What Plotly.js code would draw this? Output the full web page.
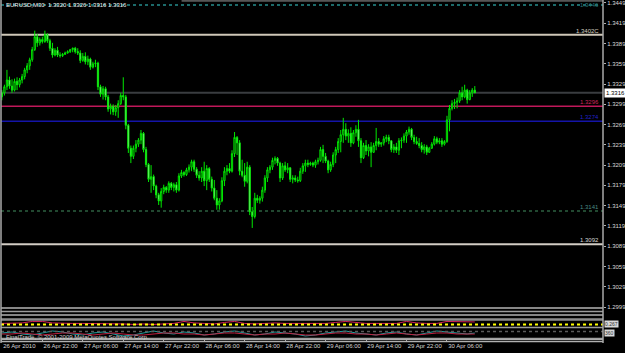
<!DOCTYPE html>
<html>
<head>
<meta charset="utf-8">
<script src="https://cdn.plot.ly/plotly-3.0.1.min.js"></script>
<style>html,body{margin:0;padding:0;background:#000;}#chart{width:625px;height:353px;}</style>
</head>
<body>
<div id="chart"></div>
<script>
// ---- data (EURUSD M30, 26 Apr 2010 14:00 onwards, one bar per 30 min) ----
const symbolTitle = 'EURUSD,M30  1.3320 1.3326 1.3316 1.3316';
const firstBar = [2010, 4, 26, 14, 0];
const opens = [1.3310,1.3316,1.3325,1.3335,1.3326,1.3320,1.3333,1.3328,1.3335,1.3340,1.3350,1.3356,1.3365,1.3380,1.3399,1.3390,1.3395,1.3392,1.3402,1.3393,
1.3382,1.3372,1.3379,1.3372,1.3371,1.3373,1.3375,1.3377,1.3380,1.3382,1.3377,1.3375,1.3364,1.3370,1.3362,1.3366,1.3354,1.3359,1.3360,1.3325,
1.3314,1.3322,1.3310,1.3292,1.3296,1.3288,1.3294,1.3300,1.3312,1.3310,1.3268,1.3234,1.3222,1.3234,1.3240,1.3246,1.3256,1.3232,1.3210,1.3188,
1.3192,1.3178,1.3165,1.3156,1.3170,1.3176,1.3172,1.3182,1.3176,1.3180,1.3172,1.3193,1.3198,1.3195,1.3202,1.3206,1.3214,1.3203,1.3194,1.3190,
1.3200,1.3186,1.3204,1.3188,1.3175,1.3160,1.3150,1.3156,1.3186,1.3200,1.3204,1.3200,1.3226,1.3250,1.3242,1.3200,1.3194,1.3185,1.3206,1.3140,
1.3133,1.3160,1.3157,1.3160,1.3172,1.3190,1.3202,1.3206,1.3216,1.3219,1.3212,1.3190,1.3208,1.3202,1.3205,1.3188,1.3190,1.3187,1.3186,1.3200,
1.3208,1.3212,1.3210,1.3212,1.3209,1.3214,1.3216,1.3232,1.3222,1.3215,1.3202,1.3210,1.3224,1.3232,1.3244,1.3254,1.3262,1.3252,1.3256,1.3242,
1.3257,1.3262,1.3245,1.3220,1.3238,1.3230,1.3236,1.3228,1.3238,1.3244,1.3240,1.3242,1.3248,1.3250,1.3245,1.3232,1.3236,1.3231,1.3245,1.3246,
1.3252,1.3258,1.3262,1.3250,1.3244,1.3241,1.3238,1.3232,1.3236,1.3228,1.3234,1.3240,1.3248,1.3243,1.3245,1.3240,1.3244,1.3276,1.3293,1.3300,
1.3302,1.3304,1.3316,1.3310,1.3320,1.3306,1.3316,1.3320];
const highs = [1.3320,1.3328,1.3350,1.3340,1.3336,1.3337,1.3339,1.3338,1.3344,1.3353,1.3360,1.3368,1.3384,1.3408,1.3403,1.3398,1.3399,1.3408,1.3404,1.3396,
1.3390,1.3382,1.3384,1.3376,1.3375,1.3377,1.3379,1.3381,1.3383,1.3384,1.3382,1.3379,1.3375,1.3376,1.3371,1.3368,1.3362,1.3365,1.3362,1.3328,
1.3326,1.3325,1.3313,1.3300,1.3299,1.3298,1.3305,1.3316,1.3339,1.3313,1.3270,1.3238,1.3238,1.3246,1.3249,1.3261,1.3258,1.3236,1.3212,1.3209,
1.3195,1.3180,1.3168,1.3175,1.3180,1.3178,1.3185,1.3184,1.3183,1.3184,1.3197,1.3202,1.3200,1.3205,1.3210,1.3217,1.3217,1.3206,1.3200,1.3206,
1.3214,1.3209,1.3206,1.3192,1.3187,1.3172,1.3160,1.3191,1.3206,1.3209,1.3212,1.3231,1.3258,1.3252,1.3246,1.3217,1.3212,1.3214,1.3209,1.3147,
1.3168,1.3165,1.3163,1.3177,1.3194,1.3206,1.3209,1.3220,1.3222,1.3221,1.3214,1.3212,1.3214,1.3212,1.3206,1.3194,1.3194,1.3192,1.3205,1.3212,
1.3217,1.3217,1.3214,1.3214,1.3217,1.3220,1.3236,1.3239,1.3227,1.3217,1.3214,1.3228,1.3236,1.3249,1.3261,1.3279,1.3271,1.3262,1.3265,1.3261,
1.3268,1.3276,1.3249,1.3242,1.3246,1.3240,1.3243,1.3242,1.3264,1.3249,1.3243,1.3252,1.3254,1.3254,1.3246,1.3240,1.3242,1.3249,1.3250,1.3256,
1.3261,1.3266,1.3264,1.3254,1.3251,1.3249,1.3243,1.3240,1.3239,1.3236,1.3243,1.3252,1.3251,1.3249,1.3249,1.3246,1.3282,1.3298,1.3305,1.3307,
1.3309,1.3320,1.3325,1.3328,1.3322,1.3320,1.3323,1.3326];
const lows = [1.3305,1.3312,1.3320,1.3322,1.3316,1.3318,1.3320,1.3324,1.3330,1.3336,1.3345,1.3350,1.3362,1.3378,1.3384,1.3386,1.3389,1.3390,1.3390,1.3378,
1.3368,1.3370,1.3369,1.3368,1.3369,1.3372,1.3374,1.3375,1.3376,1.3374,1.3372,1.3360,1.3362,1.3358,1.3357,1.3350,1.3352,1.3354,1.3320,1.3310,
1.3306,1.3305,1.3288,1.3284,1.3283,1.3282,1.3279,1.3298,1.3305,1.3262,1.3227,1.3212,1.3218,1.3228,1.3236,1.3240,1.3228,1.3206,1.3184,1.3168,
1.3172,1.3160,1.3150,1.3146,1.3166,1.3168,1.3168,1.3172,1.3170,1.3168,1.3170,1.3190,1.3192,1.3193,1.3198,1.3200,1.3199,1.3190,1.3186,1.3184,
1.3178,1.3172,1.3184,1.3170,1.3157,1.3143,1.3143,1.3154,1.3178,1.3194,1.3197,1.3198,1.3221,1.3224,1.3194,1.3191,1.3177,1.3182,1.3135,1.3116,
1.3130,1.3153,1.3152,1.3155,1.3168,1.3184,1.3197,1.3202,1.3210,1.3208,1.3184,1.3187,1.3199,1.3197,1.3184,1.3182,1.3184,1.3183,1.3184,1.3196,
1.3199,1.3206,1.3208,1.3206,1.3205,1.3210,1.3214,1.3212,1.3212,1.3197,1.3199,1.3206,1.3212,1.3227,1.3228,1.3242,1.3246,1.3242,1.3236,1.3240,
1.3251,1.3236,1.3212,1.3218,1.3224,1.3222,1.3206,1.3227,1.3231,1.3236,1.3236,1.3238,1.3243,1.3240,1.3228,1.3227,1.3227,1.3224,1.3234,1.3242,
1.3242,1.3254,1.3246,1.3240,1.3239,1.3234,1.3228,1.3226,1.3224,1.3227,1.3233,1.3238,1.3240,1.3240,1.3236,1.3238,1.3242,1.3259,1.3290,1.3292,
1.3293,1.3301,1.3305,1.3308,1.3300,1.3305,1.3310,1.3316];
const closes = [1.3316,1.3325,1.3335,1.3326,1.3320,1.3333,1.3328,1.3335,1.3340,1.3350,1.3356,1.3365,1.3380,1.3399,1.3390,1.3395,1.3392,1.3402,1.3393,1.3382,
1.3372,1.3379,1.3372,1.3371,1.3373,1.3375,1.3377,1.3380,1.3382,1.3377,1.3375,1.3364,1.3370,1.3362,1.3366,1.3354,1.3359,1.3360,1.3325,1.3314,
1.3322,1.3310,1.3292,1.3296,1.3288,1.3294,1.3300,1.3312,1.3310,1.3268,1.3234,1.3222,1.3234,1.3240,1.3246,1.3256,1.3232,1.3210,1.3188,1.3192,
1.3178,1.3165,1.3156,1.3170,1.3176,1.3172,1.3182,1.3176,1.3180,1.3172,1.3193,1.3198,1.3195,1.3202,1.3206,1.3214,1.3203,1.3194,1.3190,1.3200,
1.3186,1.3204,1.3188,1.3175,1.3160,1.3150,1.3156,1.3186,1.3200,1.3204,1.3200,1.3226,1.3250,1.3242,1.3200,1.3194,1.3185,1.3206,1.3140,1.3133,
1.3160,1.3157,1.3160,1.3172,1.3190,1.3202,1.3206,1.3216,1.3219,1.3212,1.3190,1.3208,1.3202,1.3205,1.3188,1.3190,1.3187,1.3186,1.3200,1.3208,
1.3212,1.3210,1.3212,1.3209,1.3214,1.3216,1.3232,1.3222,1.3215,1.3202,1.3210,1.3224,1.3232,1.3244,1.3254,1.3262,1.3252,1.3256,1.3242,1.3257,
1.3262,1.3245,1.3220,1.3238,1.3230,1.3236,1.3228,1.3238,1.3244,1.3240,1.3242,1.3248,1.3250,1.3245,1.3232,1.3236,1.3231,1.3245,1.3246,1.3252,
1.3258,1.3262,1.3250,1.3244,1.3241,1.3238,1.3232,1.3236,1.3228,1.3234,1.3240,1.3248,1.3243,1.3245,1.3240,1.3244,1.3276,1.3293,1.3300,1.3302,
1.3304,1.3316,1.3310,1.3320,1.3306,1.3316,1.3320,1.3316];

// horizontal price levels drawn on the chart
const levelPrices = [1.3452, 1.3446, 1.3402, 1.3316, 1.3296, 1.3274, 1.3141, 1.3092];
const levelLabels = ['', '1.3446', '1.3402C', '', '1.3296', '1.3274', '1.3141', '1.3092'];
const levelColors = ['#9a9a9a', '#1c6a6a', '#cfc7b8', '#3a3d40', '#c0185a', '#1414a8', '#2c6040', '#d2ccc4'];
const levelLabelColors = ['#9a9a9a', '#2a7a7a', '#d8d0c0', '#aaaaaa', '#d0245a', '#2020c8', '#4a8a80', '#d8d8d8'];
const levelWidths = [1, 2, 2, 2, 1.5, 1.5, 1.5, 2];
const levelDash = ['solid', 'dot', 'solid', 'solid', 'solid', 'solid', 'dot', 'solid'];
const currentPrice = 1.3316;

// x-axis tick labels
const tickTimes = ['2010-04-26 14:00','2010-04-26 22:00','2010-04-27 06:00','2010-04-27 14:00','2010-04-27 22:00','2010-04-28 06:00',
  '2010-04-28 14:00','2010-04-28 22:00','2010-04-29 06:00','2010-04-29 14:00','2010-04-29 22:00','2010-04-30 06:00'];
const tickLabels = ['26 Apr 2010','26 Apr 22:00','27 Apr 06:00','27 Apr 14:00','27 Apr 22:00','28 Apr 06:00',
  '28 Apr 14:00','28 Apr 22:00','29 Apr 06:00','29 Apr 14:00','29 Apr 22:00','30 Apr 06:00'];

// indicator sub-windows (sampled bars)
const indBars = [0,4,8,12,16,20,24,28,32,36,40,44,48,52,56,60,64,68,72,76,80,84,88,92,96,100,104,108,112,116,120,124,128,132,136,140,144,148,152,156,160,164,168,172,176,180,184,187];
const ind1Red = [4.5,4.5,5,6.5,6.5,5,4.5,4.5,4.5,4.5,4,4,4,3.5,4,3.5,4,4.5,6.5,5,4.5,4,5.5,6.5,4.5,4,4.5,5,4.5,4.5,5,5,4.5,5.5,6.5,5.5,4.5,4.5,4.5,4.5,6.5,5,4.5,4.5,6.5,6.5,6,6];
const ind2Teal = [6,7,5,4,6,8,7,5,4,6,7,5,3,4,6,8,6,5,7,6,4,5,7,8,6,4,5,7,6,5,3,4,6,7,8,6,5,4,6,7,5,4,6,8,7,6,5,6];
const ind2Red = [5,5,6,5,4,5,6,6,5,4,5,6,5,4,4,5,6,6,5,5,4,5,6,6,5,4,5,5,6,5,4,4,5,6,6,5,5,4,5,6,5,4,5,6,6,5,5,5];
const ind1Level = 3.5;
const ind2Level = 7.5;
const copyrightText = 'FinalTrade, © 2001-2009 MetaQuotes Software Corp.';

// ---- build ----
function pad(n){return (n<10?'0':'')+n;}
const t0 = Date.UTC(firstBar[0], firstBar[1]-1, firstBar[2], firstBar[3], firstBar[4]);
function barTime(i){
  const d = new Date(t0 + i*30*60000);
  return d.getUTCFullYear()+'-'+pad(d.getUTCMonth()+1)+'-'+pad(d.getUTCDate())+' '+pad(d.getUTCHours())+':'+pad(d.getUTCMinutes())+':'+pad(d.getUTCSeconds());
}
const times = opens.map((_, i) => barTime(i));
const xStart = barTime(-0.35);
const xEnd = barTime(237.7);
const FONT = 'Liberation Sans, Arial, sans-serif';
const FS = 6;

const traces = [
  {type:'candlestick', x: times, open: opens, high: highs, low: lows, close: closes,
   increasing:{line:{color:'#00e800', width:1}, fillcolor:'#000000'},
   decreasing:{line:{color:'#00e800', width:1}, fillcolor:'#e8ffe8'},
   whiskerwidth:0, hoverinfo:'skip', showlegend:false, xaxis:'x', yaxis:'y'},
  {type:'scatter', mode:'lines', x: indBars.map(barTime), y: ind1Red, line:{color:'#d0205a', width:1},
   xaxis:'x', yaxis:'y2', showlegend:false, hoverinfo:'skip'},
  {type:'scatter', mode:'lines', x: indBars.map(barTime), y: ind2Teal, line:{color:'#20a0a0', width:1},
   xaxis:'x', yaxis:'y3', showlegend:false, hoverinfo:'skip'},
  {type:'scatter', mode:'lines', x: indBars.map(barTime), y: ind2Red, line:{color:'#c02040', width:1},
   xaxis:'x', yaxis:'y3', showlegend:false, hoverinfo:'skip'}
];

const shapes = [];
const annotations = [];
levelPrices.forEach((p, k) => {
  shapes.push({type:'line', xref:'paper', yref:'y', x0: k===0?0.3:0, x1:1, y0:p, y1:p,
    line:{color:levelColors[k], width:levelWidths[k], dash:levelDash[k]}, layer:'below'});
  if (levelLabels[k]) {
    const nearTop = p > 1.344;
    annotations.push({xref:'paper', yref:'y', x:0.997, y:p, xanchor:'right', yanchor: nearTop ? 'middle' : 'bottom',
      yshift: nearTop ? 0 : -1,
      text: levelLabels[k], showarrow:false, font:{family:FONT, size:FS, color:levelLabelColors[k]}});
  }
});
// sub-window separators (paper coordinates)
[[0.102,'#b4b4b4',1.5],[0.0918,'#9a9a9a',1.5],[0.0816,'#b0b0b0',1.5],[0.0685,'#8c8c8c',2.5],
 [0.0452,'#9a9a9a',1.5],[0.0131,'#a0a0a0',1.5],[0.0044,'#b0b0b0',1.5]].forEach(s => {
  shapes.push({type:'line', xref:'paper', yref:'paper', x0:0, x1:1, y0:s[0], y1:s[0], line:{color:s[1], width:s[2]}});
});
shapes.push({type:'line', xref:'paper', yref:'y2', x0:0, x1:1, y0:ind1Level, y1:ind1Level, line:{color:'#ffff00', width:2, dash:'dot'}});
shapes.push({type:'line', xref:'paper', yref:'y3', x0:0, x1:1, y0:ind2Level, y1:ind2Level, line:{color:'#5a5a5a', width:1.5, dash:'dot'}});
// frame lines
shapes.push({type:'line', xref:'paper', yref:'paper', x0:0, x1:0, y0:0, y1:1, line:{color:'#a8a8a8', width:1.5}});
shapes.push({type:'line', xref:'paper', yref:'paper', x0:1, x1:1, y0:0, y1:1, line:{color:'#a8a8a8', width:1.5}});

annotations.push({xref:'paper', yref:'paper', x:0.005, y:0.984, xanchor:'left', yanchor:'middle', text:symbolTitle,
  showarrow:false, font:{family:FONT, size:FS, color:'#f0f0f0'}});
annotations.push({xref:'paper', yref:'y', x:1.002, y:currentPrice, xanchor:'left', yanchor:'middle', text:currentPrice.toFixed(4),
  showarrow:false, bgcolor:'#ffffff', borderpad:1, font:{family:FONT, size:FS, color:'#000000'}});
annotations.push({xref:'paper', yref:'y3', x:0.005, y:1.5, xanchor:'left', yanchor:'middle', text:copyrightText,
  showarrow:false, font:{family:FONT, size:FS, color:'#d0d0d0'}});
annotations.push({xref:'paper', yref:'y2', x:1.002, y:ind1Level, xanchor:'left', yanchor:'middle', text:'0.267',
  showarrow:false, bgcolor:'#d8d8d8', borderpad:0, font:{family:FONT, size:5, color:'#333333'}});
annotations.push({xref:'paper', yref:'y3', x:1.002, y:ind2Level-1.5, xanchor:'left', yanchor:'middle', text:'360',
  showarrow:false, bgcolor:'#d8d8d8', borderpad:0, font:{family:FONT, size:5, color:'#333333'}});

const layout = {
  width:625, height:353,
  margin:{l:1, r:22, t:0, b:10, pad:0},
  paper_bgcolor:'#000000', plot_bgcolor:'#000000',
  showlegend:false,
  font:{family:FONT, size:FS, color:'#d8d8d8'},
  xaxis:{type:'date', range:[xStart, xEnd], anchor:'y3', rangeslider:{visible:false},
    tickmode:'array', tickvals:tickTimes, ticktext:tickLabels, ticklabelposition:'outside right', tickangle:0,
    ticks:'outside', ticklen:2, tickcolor:'#b0b0b0', showgrid:false, zeroline:false,
    showline:true, linecolor:'#b0b0b0', linewidth:1.5, ticklabelstandoff:0,
    tickfont:{family:FONT, size:FS, color:'#d8d8d8'}},
  yaxis:{domain:[0.102, 1], range:[1.29975, 1.34534], side:'right', anchor:'x',
    tick0:1.2999, dtick:0.003, tickformat:'.4f', ticks:'outside', ticklen:2, tickcolor:'#b0b0b0', ticklabelstandoff:0,
    showgrid:false, zeroline:false, showline:false, tickfont:{family:FONT, size:FS, color:'#d8d8d8'}},
  yaxis2:{domain:[0.044, 0.073], range:[0, 10], anchor:'x', showticklabels:false, showgrid:false, zeroline:false, ticks:''},
  yaxis3:{domain:[0.0117, 0.0437], range:[0, 11], anchor:'x', showticklabels:false, showgrid:false, zeroline:false, ticks:''},
  shapes: shapes,
  annotations: annotations
};

Plotly.newPlot('chart', traces, layout, {staticPlot:true, displayModeBar:false});
</script>
</body>
</html>
